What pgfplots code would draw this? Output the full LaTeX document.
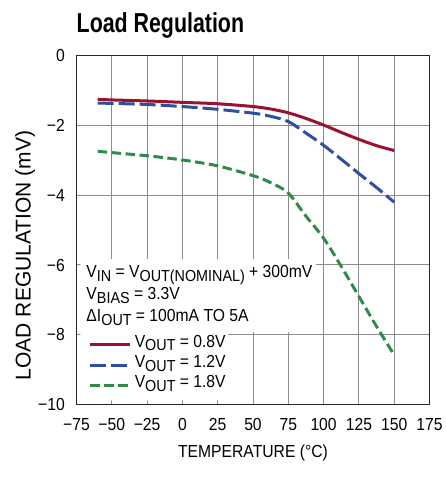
\documentclass[border=0pt]{standalone}
\usepackage{fontspec}
\setmainfont{Liberation Sans}[FakeStretch=0.9]
\newfontfamily\titlefont{Liberation Sans}[FakeStretch=0.78]
\newfontfamily\ylabfont{Liberation Sans}[FakeStretch=0.98]
\usepackage{pgfplots}
\pgfplotsset{compat=1.18}
\definecolor{cred}{RGB}{155,17,48}
\definecolor{cblue}{RGB}{46,78,165}
\definecolor{cgreen}{RGB}{46,139,72}
\definecolor{gridgray}{RGB}{140,140,140}
\newcommand\txt{\fontsize{17.5}{20}\selectfont}
\newcommand\sub[1]{\raisebox{-3.5bp}{\fontsize{16}{16}\selectfont #1}}
\begin{document}
\begin{tikzpicture}
\path[use as bounding box] (-76.5bp,-72.4bp) rectangle (369.5bp,404.6bp);
\begin{axis}[
  at={(0,0)}, anchor=south west,
  scale only axis, width=353bp, height=349bp,
  xmin=-75, xmax=175, ymin=-10, ymax=0,
  xtick={-75,-50,-25,0,25,50,75,100,125,150,175},
  ytick={-10,-8,-6,-4,-2,0},
  xticklabels={−75,−50,−25,0,25,50,75,100,125,150,175},
  yticklabels={−10,−8,−6,−4,−2,0},
  major tick length=0pt,
  grid=major,
  grid style={line width=1bp, color=gridgray},
  axis line style={line width=1.4bp, color=black!85},
  tick label style={font=\txt},
  xticklabel style={anchor=base, yshift=-25.4bp, inner sep=0pt},
  yticklabel style={anchor=east, xshift=-11.5bp, inner sep=0pt},
  legend image code/.code={\draw[#1] (0bp,0bp) -- (40bp,0bp);},
  legend cell align=left,
  legend style={draw=none, fill=none, at={(axis cs:-66.3,-8.0)}, anchor=north west,
    inner sep=0pt, outer sep=0pt, column sep=3bp, row sep=0pt,
    nodes={inner sep=0pt, font=\txt, text height=12.5bp, text depth=7.75bp}},
]
\fill[white] (axis cs:-72.17,-9.885) -- (axis cs:32.3,-9.885) -- (axis cs:32.3,-7.92)
  -- (axis cs:94.6,-7.92) -- (axis cs:94.6,-5.83) -- (axis cs:-72.17,-5.83) -- cycle;
\addplot[cred, line width=3bp, smooth] coordinates {
 (-60,-1.25) (-50,-1.27) (-25,-1.30) (0,-1.34) (25,-1.38) (50,-1.46) (62.5,-1.53)
 (75,-1.64) (87.5,-1.80) (100,-1.99) (112.5,-2.20) (125,-2.40) (137.5,-2.58) (150,-2.72)};
\addlegendentry{V\sub{OUT} = 0.8V}
\addplot[cblue, line width=3bp, smooth, dash pattern=on 16bp off 5bp] coordinates {
 (-60,-1.36) (-50,-1.37) (-25,-1.40) (0,-1.46) (25,-1.54) (50,-1.65) (62.5,-1.74)
 (75,-1.89) (87.5,-2.22) (100,-2.57) (112.5,-2.97) (125,-3.38) (137.5,-3.78) (150,-4.20)};
\addlegendentry{V\sub{OUT} = 1.2V}
\addplot[cgreen, line width=3bp, smooth, dash pattern=on 9.5bp off 4.5bp] coordinates {
 (-60,-2.74) (-50,-2.78) (-25,-2.87) (0,-2.99) (25,-3.16) (50,-3.44) (62.5,-3.64)
 (75,-3.94) (87.5,-4.60) (100,-5.23) (112.5,-6.04) (125,-6.90) (137.5,-7.76) (150,-8.58)};
\addlegendentry{V\sub{OUT} = 1.8V}
\end{axis}
\node[anchor=base west, inner sep=0pt, font=\titlefont\bfseries\fontsize{27.5}{31}\selectfont] at (0bp,372.3bp) {Load Regulation};
\node[anchor=base, inner sep=0pt, font=\txt] at (176.5bp,-52.4bp) {TEMPERATURE (°C)};
\node[anchor=base, inner sep=0pt, rotate=90, font=\ylabfont\fontsize{21.5}{24}\selectfont] at (-45.8bp,149.1bp) {LOAD REGULATION (mV)};
\node[anchor=base west, inner sep=0pt, font=\txt] at (9.8bp,126.9bp) {V\sub{IN} = V\sub{OUT(NOMINAL)} + 300mV};
\node[anchor=base west, inner sep=0pt, font=\txt] at (9.8bp,104.6bp) {V\sub{BIAS} = 3.3V};
\node[anchor=base west, inner sep=0pt, font=\txt] at (9.8bp,82.9bp) {ΔI\sub{OUT} = 100mA TO 5A};
\end{tikzpicture}
\end{document}
